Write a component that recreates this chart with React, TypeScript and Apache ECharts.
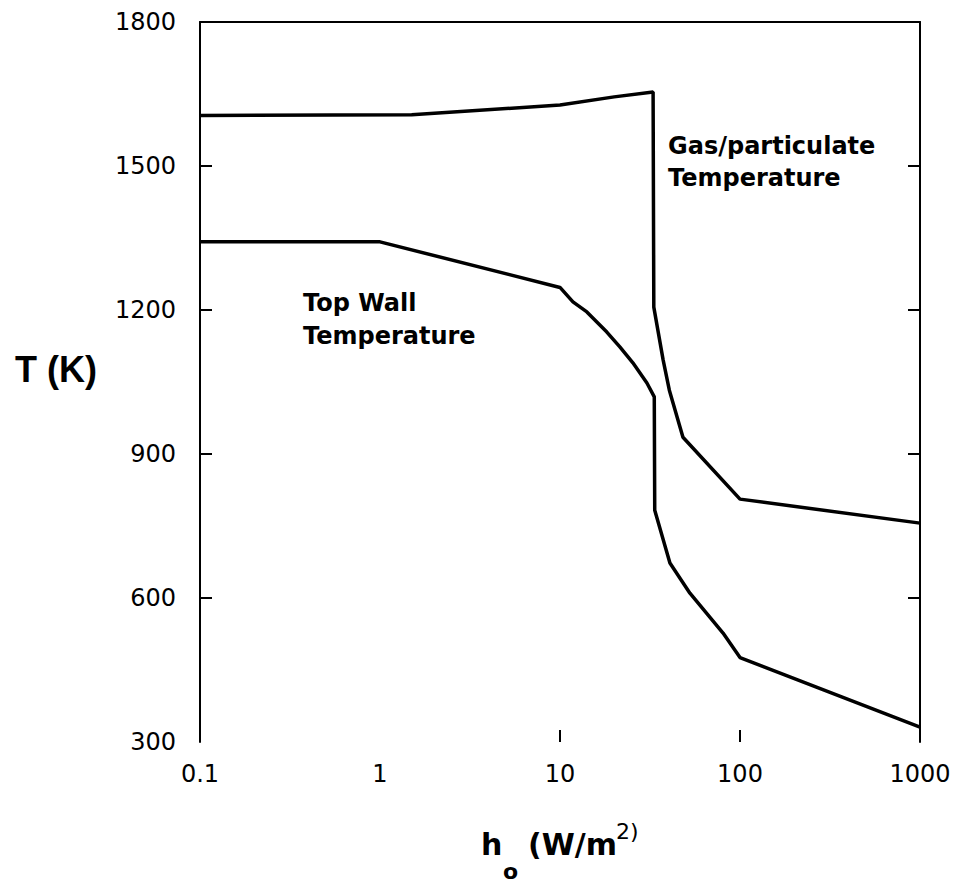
import React, { useEffect, useRef } from "react";
import * as echarts from "echarts";

// h_o (W/m^2) on a log scale, T in K
const xTickLabels = [0.1, 1, 10, 100, 1000];
const xInnerTicks = [10, 100];
const yInnerTicks = [600, 900, 1200, 1500];

// Gas/particulate temperature
const gasH = [0.1, 1.5, 10, 20, 32.9, 33.2, 37.4, 40.5, 48.2, 100, 1000];
const gasT = [1605, 1607, 1627, 1644, 1654, 1206, 1096, 1033, 935, 806, 756];

// Top wall temperature
const wallH = [0.1, 1, 10, 11.8, 14.1, 18.2, 21.5, 25.4, 30.4, 33.4, 33.6, 40.8, 52.7, 80.5, 100, 1000];
const wallT = [1342, 1342, 1247, 1217, 1196, 1154, 1123, 1090, 1048, 1019, 783, 673, 610, 527, 476, 331];

const pairs = (xs: number[], ys: number[]) => xs.map((x, i) => [x, ys[i]]);

export default function App() {
  const ref = useRef<HTMLDivElement>(null);

  useEffect(() => {
    document.body.style.margin = "0";
    const chart = echarts.init(ref.current!, null, { renderer: "svg" });
    const axisLine = { show: true, lineStyle: { color: "#000", width: 2 } };
    const tickFont = { fontFamily: "DejaVu Sans", fontSize: 24, color: "#000" };
    const boldText = { fontFamily: "DejaVu Sans", fontWeight: "bold", fontSize: 24, fill: "#000" };

    chart.setOption({
      animation: false,
      backgroundColor: "#fff",
      grid: { left: 200, top: 22, width: 720, height: 720 },
      xAxis: [
        {
          type: "log",
          logBase: 10,
          min: 0.1,
          max: 1000,
          position: "bottom",
          axisLine: { show: false },
          axisTick: {
            show: true,
            inside: true,
            length: 12,
            customValues: xInnerTicks,
            lineStyle: { color: "#000", width: 2 },
          },
          axisLabel: {
            ...tickFont,
            margin: 20,
            customValues: xTickLabels,
            formatter: (v: number) => String(Number(v.toPrecision(3))),
          },
          splitLine: { show: false },
          minorTick: { show: false },
        },
        {
          type: "log",
          logBase: 10,
          min: 0.1,
          max: 1000,
          position: "top",
          axisLine,
          axisTick: { show: false },
          axisLabel: { show: false },
          splitLine: { show: false },
        },
      ],
      yAxis: [
        {
          type: "value",
          min: 300,
          max: 1800,
          interval: 300,
          position: "left",
          axisLine,
          axisTick: {
            show: true,
            inside: true,
            length: 12,
            customValues: yInnerTicks,
            lineStyle: { color: "#000", width: 2 },
          },
          axisLabel: { ...tickFont, margin: 24, formatter: (v: number) => String(v) },
          splitLine: { show: false },
        },
        {
          type: "value",
          min: 300,
          max: 1800,
          interval: 300,
          position: "right",
          axisLine,
          axisTick: {
            show: true,
            inside: true,
            length: 12,
            customValues: yInnerTicks,
            lineStyle: { color: "#000", width: 2 },
          },
          axisLabel: { show: false },
          splitLine: { show: false },
        },
      ],
      series: [
        {
          name: "Gas/particulate Temperature",
          type: "line",
          data: pairs(gasH, gasT),
          symbol: "none",
          lineStyle: { color: "#000", width: 3.5 },
        },
        {
          name: "Top Wall Temperature",
          type: "line",
          data: pairs(wallH, wallT),
          symbol: "none",
          lineStyle: { color: "#000", width: 3.5 },
        },
      ],
      graphic: [
        { type: "text", x: 668, y: 146, style: { ...boldText, text: "Gas/particulate", verticalAlign: "middle" } },
        { type: "text", x: 668, y: 178, style: { ...boldText, text: "Temperature", verticalAlign: "middle" } },
        { type: "text", x: 303, y: 303, style: { ...boldText, text: "Top Wall", verticalAlign: "middle" } },
        { type: "text", x: 303, y: 336, style: { ...boldText, text: "Temperature", verticalAlign: "middle" } },
        {
          type: "text",
          x: 15,
          y: 369,
          style: { text: "T (K)", fontFamily: "Liberation Sans", fontWeight: "bold", fontSize: 36, fill: "#000", verticalAlign: "middle" },
        },
        {
          type: "text",
          x: 481,
          y: 844,
          style: { text: "h", fontFamily: "DejaVu Sans", fontWeight: "bold", fontSize: 30, fill: "#000", verticalAlign: "middle" },
        },
        {
          type: "text",
          x: 503,
          y: 871,
          style: { text: "o", fontFamily: "DejaVu Sans", fontWeight: "bold", fontSize: 22, fill: "#000", verticalAlign: "middle" },
        },
        {
          type: "text",
          x: 528,
          y: 844,
          style: { text: "(W/m", fontFamily: "DejaVu Sans", fontWeight: "bold", fontSize: 30, fill: "#000", verticalAlign: "middle" },
        },
        {
          type: "text",
          x: 616,
          y: 831,
          style: { text: "2)", fontFamily: "DejaVu Sans", fontSize: 22, fill: "#000", verticalAlign: "middle" },
        },
      ],
    });

    return () => chart.dispose();
  }, []);

  return <div ref={ref} style={{ width: 958, height: 884 }} />;
}
